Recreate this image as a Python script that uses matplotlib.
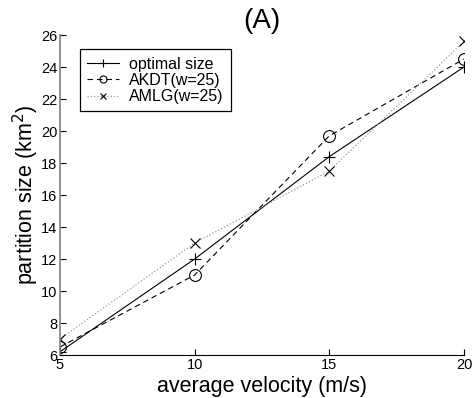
import matplotlib.pyplot as plt
import numpy as np

plt.rcParams['font.family'] = ['Liberation Sans', 'DejaVu Sans']

velocity = [5, 10, 15, 20]
optimal = [6.2, 12.0, 18.4, 24.0]
akdt = [6.5, 11.0, 19.7, 24.5]
amlg = [7.0, 13.0, 17.5, 25.6]

fig = plt.figure(figsize=(4.72, 3.98), dpi=100)
ax = fig.add_axes([0.127, 0.108, 0.856, 0.804])

ax.plot(velocity, optimal, '-', color='k', lw=0.8, marker='+', ms=9, mew=0.8,
        label='optimal size')
ax.plot(velocity, akdt, color='k', lw=0.8, dashes=(5, 3.5), marker='o', ms=8.5,
        mfc='none', mew=0.8, label='AKDT(w=25)')
ax.plot(velocity, amlg, ':', color='0.6', lw=0.9, marker='x', ms=6.5, mec='k',
        mew=0.8, label='AMLG(w=25)')

ax.set_xlim(5, 20)
ax.set_ylim(6, 26)
ax.set_xticks([5, 10, 15, 20])
ax.set_yticks(np.arange(6, 27, 2))
ax.tick_params(direction='in', labelsize=10.5, length=4, width=0.8, pad=2)
ax.spines['top'].set_visible(False)
ax.spines['right'].set_visible(False)
ax.spines['left'].set_color('0.5')
ax.spines['left'].set_linewidth(1.2)

ax.set_xlabel('average velocity (m/s)', fontsize=15.5, labelpad=3)
ax.set_ylabel('partition size (km$^2$)', fontsize=15.5, labelpad=0)
ax.set_title('(A)', fontsize=20, pad=5)

leg = ax.legend(loc='upper left', bbox_to_anchor=(0.05, 0.955), fontsize=11.5,
                fancybox=False, framealpha=1, edgecolor='k', handlelength=2.0,
                markerscale=0.6, borderpad=0.45, labelspacing=0.08,
                handletextpad=0.6, borderaxespad=0)
leg.get_frame().set_linewidth(0.9)

fig.savefig('out.png', dpi=100)
